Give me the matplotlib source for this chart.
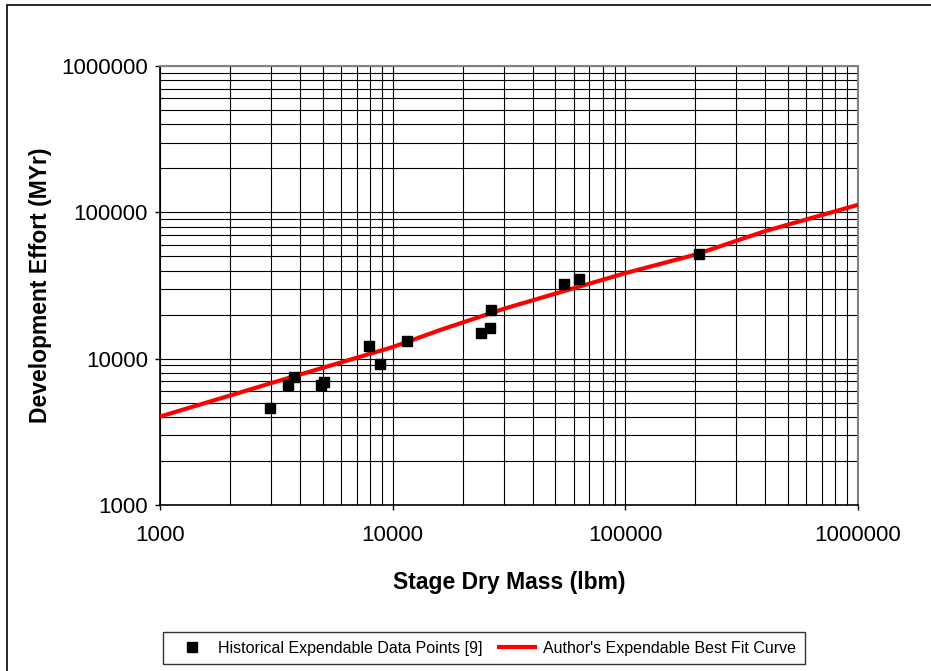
import matplotlib.pyplot as plt
from matplotlib.patches import Rectangle
from matplotlib.ticker import LogLocator, FixedLocator, NullFormatter

plt.rcParams['font.family'] = ['Liberation Sans', 'DejaVu Sans']

# historical data points (stage dry mass lbm, development effort MYr)
mass = [2960, 3540, 3750, 4900, 5090, 7940, 8850, 11560, 23970, 26200, 26500, 54400, 63100, 208000]
effort = [4600, 6600, 7500, 6600, 6900, 12200, 9200, 13200, 15000, 16200, 21500, 32400, 35100, 52000]

# best fit curve
fit_mass = [1000, 3000, 10000, 16000, 30000, 60000, 100000, 200000, 400000, 1000000]
fit_effort = [4020, 6800, 12000, 15700, 21900, 30300, 38400, 51400, 74500, 112500]

tick_labels = ['1000', '10000', '100000', '1000000']

fig = plt.figure(figsize=(9.31, 6.71), dpi=100)
ax = fig.add_axes([160 / 931, 1 - 505 / 671, 698 / 931, 439 / 671])

pts, = ax.plot(mass, effort, linestyle='none', marker='s', markersize=7.3, color='black',
               label='Historical Expendable Data Points [9]', zorder=4)
fit, = ax.plot(fit_mass, fit_effort, color='#ff0000', lw=3, solid_capstyle='butt',
               label="Author's Expendable Best Fit Curve", zorder=3)

ax.set_xscale('log')
ax.set_yscale('log')
ax.set_xlim(1000, 1000000)
ax.set_ylim(1000, 1000000)
ticks = [float(t) for t in tick_labels]
ax.xaxis.set_major_locator(FixedLocator(ticks))
ax.yaxis.set_major_locator(FixedLocator(ticks))
ax.xaxis.set_minor_locator(LogLocator(base=10, subs=range(2, 10)))
ax.yaxis.set_minor_locator(LogLocator(base=10, subs=range(2, 10)))
ax.xaxis.set_minor_formatter(NullFormatter())
ax.yaxis.set_minor_formatter(NullFormatter())
ax.set_xticklabels(tick_labels)
ax.set_yticklabels(tick_labels)
ax.tick_params(which='major', direction='out', length=3.6, width=1, labelsize=16)
ax.tick_params(axis='x', pad=11)
ax.tick_params(axis='y', pad=5)
ax.tick_params(which='minor', length=0)
ax.grid(True, which='both', color='black', lw=0.8)

for side in ['top', 'right']:
    ax.spines[side].set_color('#808080')
    ax.spines[side].set_linewidth(1.5)
for side in ['left', 'bottom']:
    ax.spines[side].set_linewidth(1.2)

ax.set_xlabel('Stage Dry Mass (lbm)', fontsize=16.5, fontweight='bold', labelpad=18)
ax.set_ylabel('Development Effort (MYr)', fontsize=16.5, fontweight='bold', labelpad=7)

leg = fig.legend([pts, fit], [pts.get_label(), fit.get_label()], loc='center',
                 bbox_to_anchor=(484 / 931, 1 - 648 / 671), ncol=2,
                 fontsize=11.5, frameon=True, fancybox=False, edgecolor='black',
                 handlelength=2.5, columnspacing=0.9, handletextpad=0.4, borderpad=0.55)
leg.get_frame().set_linewidth(1)

# outer chart border
fig.patches.append(Rectangle((7 / 931, -0.1), 1.2, 1 - 5 / 671 + 0.1, transform=fig.transFigure,
                             fill=False, edgecolor='black', lw=1.2))

fig.savefig('out.png', dpi=100)
